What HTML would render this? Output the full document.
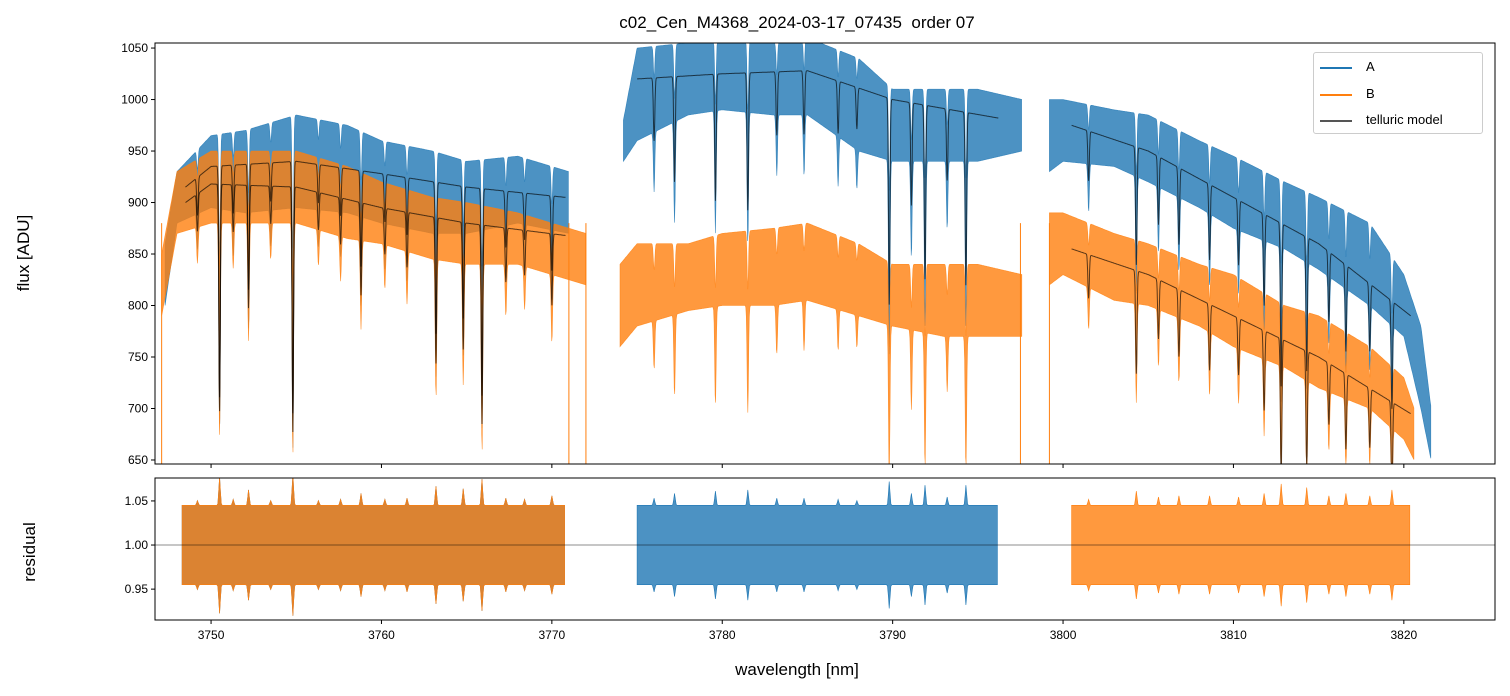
<!DOCTYPE html>
<html><head><meta charset="utf-8"><style>
body{margin:0;background:#fff;}
svg{display:block;font-family:"Liberation Sans","DejaVu Sans",sans-serif;}
</style></head><body>
<svg id="c" width="1510" height="696" viewBox="0 0 1510 696"></svg>
<script>
// ---- data ----
const segA=[[3747.3,3771.0],[3774.2,3797.6],[3799.2,3821.6]];
const segB=[[3747.1,3772.0],[3774.0,3797.6],[3799.2,3820.6]];
const aWl=[3747.3,3748,3750,3752,3755,3758,3760,3763,3765,3768,3771,3774.2,3775,3778,3780,3783,3785,3788,3790,3793,3795,3797.6,3799.2,3800,3803,3805,3808,3810,3813,3815,3818,3820,3821,3821.6];
const aHi=[860,930,965,970,985,975,960,950,940,945,930,980,1050,1055,1060,1055,1060,1040,1010,1010,1010,1000,1000,1000,990,985,960,945,920,905,880,830,780,700];
const aLo=[800,880,895,890,895,890,880,870,870,880,870,940,960,985,990,985,985,950,940,940,940,950,930,940,935,920,895,875,855,835,800,770,700,650];
const bWl=[3747.1,3748,3750,3752,3755,3758,3760,3763,3765,3768,3772,3774,3775,3778,3780,3783,3785,3788,3790,3793,3795,3797.6,3799.2,3800,3803,3805,3808,3810,3813,3815,3818,3820,3820.6];
const bHi=[850,930,950,950,950,935,920,905,900,890,870,840,860,860,870,875,880,860,840,840,840,830,890,890,870,860,840,830,800,790,760,730,700];
const bLo=[790,870,880,880,880,865,860,845,840,840,820,760,780,795,800,800,805,790,780,770,770,770,820,830,805,800,780,760,740,720,700,670,650];
const mAWl=[3748.5,3750,3755,3760,3765,3770.8,3775,3780,3785,3790,3796.2,3800.5,3805,3810,3815,3820.4];
const mAVal=[915,935,940,928,915,905,1020,1025,1028,1000,982,975,950,905,860,790];
const mBWl=[3748.5,3750,3755,3760,3765,3770.8,3800.5,3805,3810,3815,3820.4];
const mBVal=[900,918,915,895,880,868,855,830,790,750,695];
const lineWl=[3749.2,3750.5,3751.3,3752.2,3753.5,3754.8,3756.3,3757.6,3758.8,3760.2,3761.5,3763.2,3764.8,3765.9,3767.3,3768.4,3770.0,3776.0,3777.2,3779.6,3781.5,3783.2,3784.8,3786.8,3787.9,3789.8,3791.1,3791.9,3793.2,3794.3,3801.5,3804.3,3805.6,3806.8,3808.6,3810.3,3811.8,3812.8,3814.3,3815.6,3816.6,3818.0,3819.3];
const lineDepth=[0.04,0.24,0.05,0.13,0.04,0.26,0.04,0.05,0.1,0.05,0.06,0.16,0.14,0.22,0.06,0.05,0.08,0.06,0.1,0.12,0.13,0.06,0.06,0.05,0.04,0.2,0.1,0.17,0.07,0.17,0.05,0.12,0.07,0.08,0.08,0.07,0.1,0.18,0.15,0.08,0.1,0.08,0.13];
const rSegA=[[3748.3,3770.8],[3775.0,3796.2]];
const rSegB=[[3748.3,3770.8],[3800.5,3820.4]];
const rHi=[1.045];const rLo=[0.955];
const xTicks=[3750,3760,3770,3780,3790,3800,3810,3820];
const yTicks=[650,700,750,800,850,900,950,1000,1050];
const rTicks=[0.95,1.00,1.05];

// ---- geometry ----
const L=155,R=1495,T1=43,B1=464,T2=478,B2=620;
const x0=3746.71,x1=3825.35,y0=646.1,y1=1054.9,r0=0.915,r1=1.076;
const X=v=>L+(v-x0)/(x1-x0)*(R-L);
const Y=v=>B1-(v-y0)/(y1-y0)*(B1-T1);
const YR=v=>B2-(v-r0)/(r1-r0)*(B2-T2);
const svg=document.getElementById('c');const NS='http://www.w3.org/2000/svg';
function el(t,a,p){const e=document.createElementNS(NS,t);for(const k in a)e.setAttribute(k,a[k]);(p||svg).appendChild(e);return e;}
function interp(xs,ys,x){if(x<=xs[0])return ys[0];for(let i=1;i<xs.length;i++){if(x<=xs[i]){const t=(x-xs[i-1])/(xs[i]-xs[i-1]);return ys[i-1]+t*(ys[i]-ys[i-1]);}}return ys[ys.length-1];}
function dip(x){let f=1;for(let i=0;i<lineWl.length;i++){const d=(x-lineWl[i])/0.06;f*=1-lineDepth[i]*Math.exp(-d*d);}return f;}
function clampY(y){return Math.max(T1,Math.min(B1,y));}

el('defs',{}).innerHTML='<clipPath id="cp1"><rect x="155" y="43" width="1340" height="421"/></clipPath><clipPath id="cp2"><rect x="155" y="478" width="1340" height="142"/></clipPath>';
const g1=el('g',{'clip-path':'url(#cp1)'});
function band(segs,wl,hi,lo,color,name,parent){
  segs.forEach(s=>{const top=[],bot=[];
    for(let x=s[0];x<=s[1];x+=0.03){const f=dip(x);const h=interp(wl,hi,x)*(1-(1-f)*0.5),l=interp(wl,lo,x)*f;
      top.push(X(x).toFixed(1)+','+clampY(Y(h)).toFixed(1));bot.unshift(X(x).toFixed(1)+','+clampY(Y(l)).toFixed(1));}
    const p=el('polygon',{points:top.concat(bot).join(' '),fill:color,'fill-opacity':0.8,stroke:color,'stroke-width':0.6,'stroke-opacity':0.8},parent);
    });
}
band(segA,aWl,aHi,aLo,'#1f77b4','series-a-band',g1);
band(segB,bWl,bHi,bLo,'#ff7f0e','series-b-band',g1);
[[3771.0,'#ff7f0e'],[3772.0,'#ff7f0e'],[3797.5,'#ff7f0e'],[3799.2,'#ff7f0e'],[3747.1,'#ff7f0e']].forEach(s=>{const l=el('line',{x1:X(s[0]),x2:X(s[0]),y1:Y(880),y2:B1,stroke:s[1],'stroke-width':1},g1);});
function model(wl,vals,name,segs){
  let d='';
  segs.forEach(s=>{let first=true;for(let x=s[0];x<=s[1];x+=0.02){const v=interp(wl,vals,x)*dip(x);d+=(first?'M':'L')+X(x).toFixed(1)+','+clampY(Y(v)).toFixed(1);first=false;}});
  const p=el('path',{d,fill:'none',stroke:'#000','stroke-opacity':0.65,'stroke-width':1},g1);
}
model(mAWl,mAVal,'telluric-model-a',[[3748.5,3770.8],[3775,3796.2],[3800.5,3820.4]]);
model(mBWl,mBVal,'telluric-model-b',[[3748.5,3770.8],[3800.5,3820.4]]);

// residual
const g2=el('g',{'clip-path':'url(#cp2)'});
function rband(segs,color,name){segs.forEach(s=>{const top=[],bot=[];
  for(let x=s[0];x<=s[1];x+=0.05){const sp=1+(1-dip(x))*3;
    top.push(X(x).toFixed(1)+','+YR(1+(rHi[0]-1)*sp).toFixed(1));bot.unshift(X(x).toFixed(1)+','+YR(1-(1-rLo[0])*sp).toFixed(1));}
  const p=el('polygon',{points:top.concat(bot).join(' '),fill:color,'fill-opacity':0.8,stroke:color,'stroke-width':0.6},g2);});}
rband(rSegA,'#1f77b4','residual-a-band');
rband(rSegB,'#ff7f0e','residual-b-band');
el('line',{x1:L,x2:R,y1:YR(1),y2:YR(1),stroke:'#000','stroke-opacity':0.6,'stroke-width':0.8},g2);

[[T1,B1],[T2,B2]].forEach((f,i)=>{const r=el('rect',{x:L,y:f[0],width:R-L,height:f[1]-f[0],fill:'none',stroke:'#000','stroke-width':1});});
xTicks.forEach(t=>{const x=X(t);
  el('line',{x1:x,x2:x,y1:B1,y2:B1+4,stroke:'#000'});
  el('line',{x1:x,x2:x,y1:B2,y2:B2+4,stroke:'#000'});
  const tx=el('text',{x,y:B2+19,'font-size':12,'text-anchor':'middle'});tx.textContent=t;});
yTicks.forEach(t=>{const y=Y(t);el('line',{x1:L-4,x2:L,y1:y,y2:y,stroke:'#000'});
  const tx=el('text',{x:L-7,y:y+4,'font-size':12,'text-anchor':'end'});tx.textContent=t;});
rTicks.forEach(t=>{const y=YR(t);el('line',{x1:L-4,x2:L,y1:y,y2:y,stroke:'#000'});
  const tx=el('text',{x:L-7,y:y+4,'font-size':12,'text-anchor':'end'});tx.textContent=t.toFixed(2);});
</script>
<div style="position:absolute;left:0;top:0;width:1510px;height:696px;pointer-events:none;font-family:'Liberation Sans','DejaVu Sans',sans-serif;">
<div style="position:absolute;left:0;width:1594px;top:13px;text-align:center;font-size:17px;white-space:pre;">c02_Cen_M4368_2024-03-17_07435  order 07</div>
<div style="position:absolute;left:24px;top:253px;transform:translate(-50%,-50%) rotate(-90deg);font-size:17px;white-space:nowrap;">flux [ADU]</div>
<div style="position:absolute;left:30px;top:552px;transform:translate(-50%,-50%) rotate(-90deg);font-size:17px;white-space:nowrap;">residual</div>
<div style="position:absolute;left:0;width:1594px;top:660px;text-align:center;font-size:17px;">wavelength [nm]</div>
<div style="position:absolute;left:1313px;top:52px;width:168px;height:80px;border:1px solid #ccc;border-radius:3px;background:rgba(255,255,255,0.85);font-size:13px;">
<div style="position:absolute;left:6px;top:6px;"><span style="display:inline-block;width:32px;height:0;border-top:2px solid #1f77b4;vertical-align:middle;margin-right:14px;"></span>A</div>
<div style="position:absolute;left:6px;top:33px;"><span style="display:inline-block;width:32px;height:0;border-top:2px solid #ff7f0e;vertical-align:middle;margin-right:14px;"></span>B</div>
<div style="position:absolute;left:6px;top:59px;"><span style="display:inline-block;width:32px;height:0;border-top:2px solid #555;vertical-align:middle;margin-right:14px;"></span>telluric model</div>
</div>
</div>
</body></html>
